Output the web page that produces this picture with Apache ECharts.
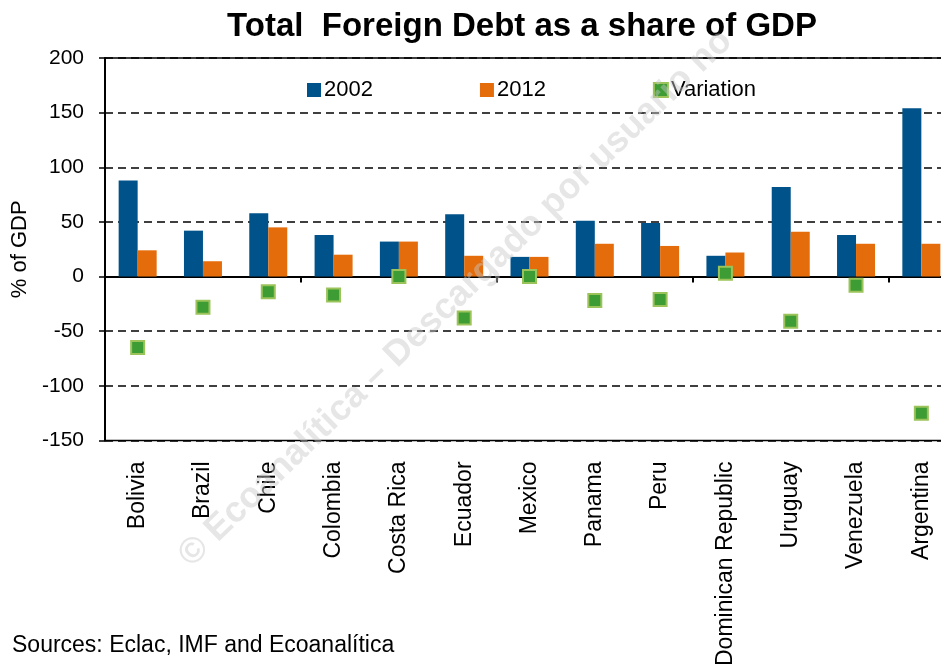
<!DOCTYPE html>
<html><head><meta charset="utf-8">
<script src="https://cdn.jsdelivr.net/npm/echarts@6/dist/echarts.min.js"></script>
<style>html,body{margin:0;padding:0;background:#fff;overflow:hidden;width:941px;height:669px}#c{width:960px;height:669px}</style>
</head><body><div id="c"></div>
<script>
const categories = ['Bolivia','Brazil','Chile','Colombia','Costa Rica','Ecuador','Mexico','Panama','Peru','Dominican Republic','Uruguay','Venezuela','Argentina'];
const debt2002 = [88, 42, 58, 38, 32, 57, 18, 51, 49, 19, 82, 38, 154];
const debt2012 = [24, 14, 45, 20, 32, 19, 18, 30, 28, 22, 41, 30, 30];
const variation = [-65, -28, -14, -17, 0, -38, 0, -22, -21, 3, -41, -8, -125];
const yTicks = {min: -150, max: 200, interval: 50};

const F = 'Arial, "Liberation Sans", sans-serif';
const chart = echarts.init(document.getElementById('c'), null, {renderer: 'canvas'});
chart.setOption({
  backgroundColor: '#fff',
  animation: false,
  title: {
    text: 'Total  Foreign Debt as a share of GDP',
    left: 517, textAlign: 'center', top: 5,
    textStyle: {fontFamily: F, fontSize: 33, fontWeight: 'bold', color: '#000'}
  },
  legend: {
    left: 302, top: 74, itemWidth: 14, itemHeight: 14, itemGap: 107,
    icon: 'rect',
    textStyle: {fontFamily: F, fontSize: 22, color: '#000', padding: [0,0,0,-2]},
    data: ['2002', '2012', 'Variation']
  },
  grid: {left: 105, top: 58, width: 849, height: 383, show: true, borderColor: '#000', borderWidth: 1.5, backgroundColor: 'transparent'},
  xAxis: [{
    type: 'category', data: categories,
    axisLine: {onZero: true, lineStyle: {color: '#000', width: 2}},
    axisTick: {show: true, length: 6, lineStyle: {color: '#000', width: 2}},
    axisLabel: {show: false}, splitLine: {show: false}
  }, {
    type: 'category', data: categories, position: 'bottom',
    axisLine: {show: false, onZero: false}, axisTick: {show: false},
    axisLabel: {show: true, rotate: 90, margin: 21, interval: 0, fontFamily: F, fontSize: 23, color: '#000'}
  }],
  yAxis: {
    type: 'value', min: yTicks.min, max: yTicks.max, interval: yTicks.interval,
    name: '% of GDP', nameLocation: 'middle', nameGap: 73,
    nameTextStyle: {fontFamily: F, fontSize: 22, color: '#000'},
    axisLine: {show: true, lineStyle: {color: '#000', width: 2}},
    axisTick: {show: true, length: 6, lineStyle: {color: '#000', width: 1.5}},
    axisLabel: {fontFamily: F, fontSize: 21, color: '#000', margin: 21},
    splitLine: {show: true, lineStyle: {color: '#000', width: 1.5, type: [8, 5]}}
  },
  series: [{
    name: '2002', type: 'bar', data: debt2002, barWidth: 19, barGap: '0%',
    itemStyle: {color: '#00538A'}
  }, {
    name: '2012', type: 'bar', data: debt2012, barWidth: 19, barGap: '0%',
    itemStyle: {color: '#E46C0A'}
  }, {
    name: 'Variation', type: 'scatter', data: variation, symbol: 'rect', symbolSize: 13,
    itemStyle: {color: '#3E9C35', borderColor: '#9BC35A', borderWidth: 2, opacity: 1}, z: 5
  }],
  graphic: [{
    type: 'text', left: 12, top: 634,
    style: {text: 'Sources: Eclac, IMF and Ecoanalítica', font: '23px ' + F, fill: '#000'}
  }, {
    type: 'text', x: 172, y: 548, rotation: Math.PI * 0.245, z: 100,
    style: {text: '© Ecoanalítica – Descargado por usuario no', font: 'bold 36px ' + F, fill: 'rgba(200,200,200,0.45)'}
  }]
});
</script></body></html>
